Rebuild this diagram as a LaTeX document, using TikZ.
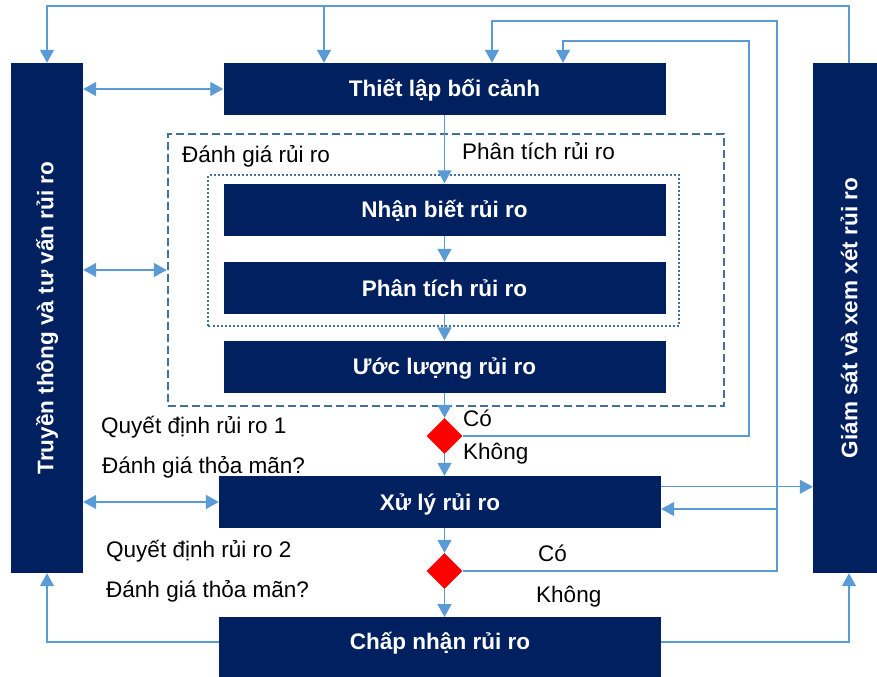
\documentclass[tikz,border=0pt]{standalone}
\usepackage{fontspec}
\setmainfont{Liberation Sans}
\usetikzlibrary{shapes.geometric,arrows.meta,calc}
\definecolor{navy}{HTML}{002060}
\definecolor{lblue}{HTML}{5B9BD5}
\definecolor{frameblue}{HTML}{41719C}
\begin{document}
\begin{tikzpicture}[x=1bp,y=-1bp,
  every node/.style={font=\fontsize{22.6}{27}\selectfont},
  bluebox/.style={fill=navy, draw=none, text=white, font=\fontsize{22.6}{27}\selectfont\bfseries,
    text height=16bp, text depth=0bp, inner sep=0pt, minimum width=442bp, minimum height=52bp},
  sidebar/.style={fill=navy, draw=none, text=white, font=\fontsize{22.6}{27}\selectfont\bfseries,
    inner sep=0pt, minimum width=72bp, minimum height=510bp},
  lbl/.style={anchor=west, inner sep=0pt, text height=16bp, text depth=0bp},
  decision/.style={diamond, fill=red, draw=none, inner sep=0pt, minimum width=36bp, minimum height=36bp},
  cline/.style={draw=lblue, line width=1.3bp},
  carr/.style={cline, -{Triangle[length=13bp,width=14bp]}},
  dcarr/.style={cline, {Triangle[length=13bp,width=14bp]}-{Triangle[length=13bp,width=14bp]}}
]
\useasboundingbox (0,0) rectangle (877,677);

% side bars
\node[sidebar] (ttv) at (47,318) {\rotatebox{90}{Truyền thông và tư vấn rủi ro}};
\node[sidebar] (gs) at (849,318) {\rotatebox{90}{Giám sát và xem xét rủi ro}};

% frames
\node[draw=frameblue, line width=2bp, dash pattern=on 8bp off 4bp, minimum width=556bp, minimum height=272bp, inner sep=0pt] (dg) at (445.8,270) {};
\node[draw=frameblue, line width=2bp, dash pattern=on 2bp off 2bp, minimum width=470bp, minimum height=151bp, inner sep=0pt] (dp) at (443.5,250.3) {};
\node[lbl] (lbdg) at (182,155) {Đánh giá rủi ro};
\node[lbl] (lbpt) at (462,152) {Phân tích rủi ro};

% main column
\node[bluebox] (tl) at (444.5,89) {Thiết lập bối cảnh};
\node[bluebox] (nb) at (444.5,209.5) {Nhận biết rủi ro};
\node[bluebox] (pt) at (444.5,288) {Phân tích rủi ro};
\node[bluebox] (ul) at (444.5,366.5) {Ước lượng rủi ro};
\node[decision] (d1) at (444.5,436) {};
\node[bluebox] (xl) at (440,502) {Xử lý rủi ro};
\node[decision] (d2) at (444.5,571) {};
\node[bluebox, anchor=north, minimum height=0bp, text height=32bp, text depth=40bp] (chn) at (440,617) {Chấp nhận rủi ro};

% labels
\node[lbl] (q1) at (101,425) {Quyết định rủi ro 1};
\node[lbl] (s1) at (102,465) {Đánh giá thỏa mãn?};
\node[lbl] (q2) at (106,549) {Quyết định rủi ro 2};
\node[lbl] (s2) at (106,589) {Đánh giá thỏa mãn?};
\node[lbl] (co1) at (463,418) {Có};
\node[lbl] (kh1) at (463,451) {Không};
\node[lbl] (co2) at (538,553) {Có};
\node[lbl] (kh2) at (536,594) {Không};

% column arrows
\draw[carr] (tl.south) -- (nb.north);
\draw[carr] (nb.south) -- (pt.north);
\draw[carr] (pt.south) -- (ul.north);
\draw[carr] (ul.south) -- (d1.north);
\draw[carr] (d1.south) -- (d1.south |- xl.north);
\draw[carr] (d2.north |- xl.south) -- (d2.north);
\draw[carr] (d2.south) -- (d2.south |- chn.north);

% top feedback from monitoring
\coordinate (tp) at (47,6);
\draw[carr] (gs.north) |- (tp) -- (ttv.north);
\coordinate (tb) at (324,6);
\draw[carr] (tb) -- (tb |- tl.north);

% decision 1 yes loop
\coordinate (c1) at (749,41);
\coordinate (c1e) at (563,41);
\draw[carr] (d1.east) -| (c1) -- (c1e) -- (c1e |- tl.north);

% decision 2 yes loop
\coordinate (c2) at (777,21);
\coordinate (c2e) at (492,21);
\draw[carr] (d2.east) -| (c2) -- (c2e) -- (c2e |- tl.north);
\coordinate (c2b) at (777,509);
\draw[carr] (c2b) -- (c2b -| xl.east);

% treatment to monitoring
\coordinate (xo) at ($(xl.north east)+(0,11)$);
\draw[carr] (xo) -- (xo -| gs.west);

% communication double arrows
\draw[dcarr] (ttv.east |- tl.west) -- (tl.west);
\draw[dcarr] (ttv.east |- dg.west) -- (dg.west);
\draw[dcarr] (ttv.east |- xl.west) -- (xl.west);

% acceptance to bars
\coordinate (cw) at ($(chn.north west)+(0,25)$);
\draw[carr] (cw) -| (ttv.south);
\coordinate (ce) at ($(chn.north east)+(0,25)$);
\draw[carr] (ce) -| (gs.south);
\end{tikzpicture}
\end{document}
